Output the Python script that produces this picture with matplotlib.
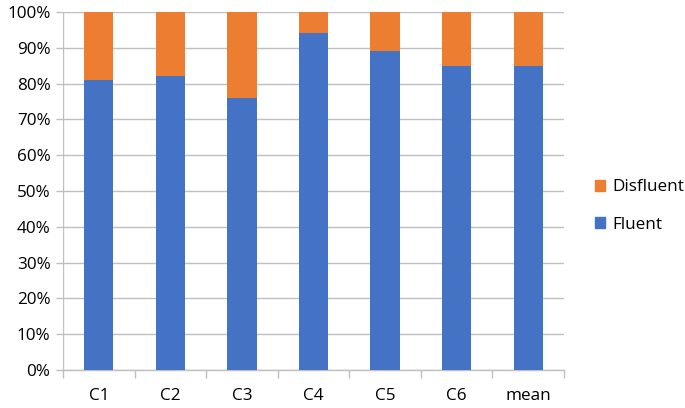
import matplotlib
matplotlib.use("Agg")
import matplotlib.pyplot as plt
from matplotlib.patches import Patch
from matplotlib.ticker import FixedLocator, PercentFormatter
import numpy as np

categories = ["C1", "C2", "C3", "C4", "C5", "C6", "mean"]
fluent = [81, 82, 76, 94, 89, 85, 85]
disfluent = [19, 18, 24, 6, 11, 15, 15]

blue = "#4472C4"
orange = "#ED7D31"
grid = "#BFBFBF"

plt.rcParams['font.family'] = ['Open Sans', 'DejaVu Sans']
fs = 12.3

fig = plt.figure(figsize=(6.85, 4.08), dpi=100)
ax = fig.add_axes([63/685, 1-370/408, (564-63)/685, (370-12)/408])

x = np.arange(len(categories))
w = 0.41
ax.bar(x, fluent, w, color=blue, zorder=3)
ax.bar(x, disfluent, w, bottom=fluent, color=orange, zorder=3)

ax.set_xlim(-0.5, len(categories) - 0.5)
ax.set_ylim(0, 100)
ax.set_yticks(np.arange(0, 101, 10))
ax.yaxis.set_major_formatter(PercentFormatter(decimals=0))
ax.yaxis.grid(True, color=grid, linewidth=1, zorder=0)
ax.set_axisbelow(True)

for s in ["top", "right", "left"]:
    ax.spines[s].set_visible(False)
ax.spines["bottom"].set_color(grid)
ax.spines["bottom"].set_linewidth(1)

ax.set_xticks(x)
ax.set_xticklabels(categories, fontsize=fs)
ax.tick_params(axis="x", length=0, pad=13, labelcolor="#000000")
ax.xaxis.set_minor_locator(FixedLocator(np.arange(-0.5, len(categories), 1.0)))
ax.tick_params(axis="x", which="minor", length=6, color=grid, width=1)
ax.tick_params(axis="y", length=5, color=grid, width=1, labelsize=fs, pad=4)

ax.axvline(-0.5, color=grid, linewidth=1, zorder=1)

handles = [Patch(color=orange, label="Disfluent"), Patch(color=blue, label="Fluent")]
fig.legend(handles=handles, loc="center left", bbox_to_anchor=(595/685, 1-206/408),
           frameon=False, fontsize=fs, handlelength=0.6, handleheight=0.6,
           handletextpad=0.4, labelspacing=1.25, borderpad=0, borderaxespad=0)

fig.savefig("out.png", dpi=100)
